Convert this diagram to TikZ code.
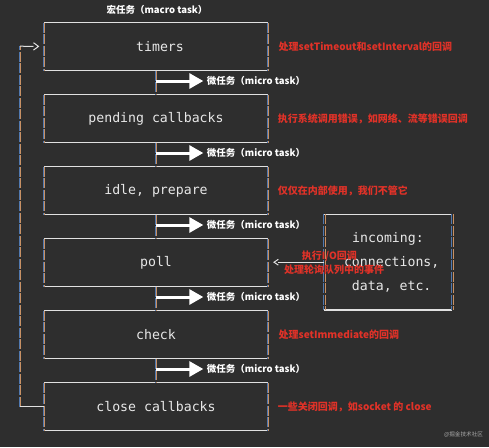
\documentclass[tikz,border=0pt]{standalone}
\usepackage{fontspec}
\newfontfamily\cjk{Noto Sans CJK SC}
\newfontfamily\mono{DejaVu Sans Mono}
\usetikzlibrary{arrows.meta,calc}
\definecolor{bg}{RGB}{46,46,46}
\definecolor{linew}{RGB}{225,225,225}
\definecolor{boxtext}{RGB}{232,232,232}
\definecolor{sideblue}{RGB}{80,120,175}
\definecolor{sideorange}{RGB}{200,145,100}
\definecolor{notered}{RGB}{225,50,40}
\definecolor{wm}{RGB}{170,170,170}
\newcommand\vsides[2]{%
  \draw[sideb] ([xshift=-0.45pt]#1) -- ([xshift=-0.45pt]#2);
  \draw[sideo] ([xshift=0.45pt]#1) -- ([xshift=0.45pt]#2);}
\begin{document}
\begin{tikzpicture}[x=1pt,y=-1pt,
  stage/.style={minimum width=224pt, minimum height=48pt, inner sep=0pt, outer sep=0pt,
    text=boxtext, font=\mono\fontsize{13.2}{24}\selectfont},
  hline/.style={draw=linew, line width=1.2pt},
  thinw/.style={draw=linew, line width=1pt},
  sideb/.style={draw=sideblue, line width=0.9pt, dash pattern=on 10pt off 1.5pt},
  sideo/.style={draw=sideorange, line width=0.5pt, dash pattern=on 10pt off 1.5pt},
  note/.style={anchor=west, text=notered, font=\cjk\bfseries\fontsize{10}{12}\selectfont, inner sep=0pt},
  micro/.style={anchor=west, text=white, font=\cjk\bfseries\fontsize{9.5}{11}\selectfont, inner sep=0pt},
  bigarrow/.style={draw=white, line width=3pt, -{Triangle[length=14pt,width=15pt]}},
]
\fill[bg] (0,0) rectangle (489,447);
\useasboundingbox (0,0) rectangle (489,447);

% stages
\node[stage] (timers) at (156,46.7) {\hspace{8pt}timers};
\node[stage] (pending) at (156,118.7) {pending callbacks};
\node[stage] (idle) at (156,190.7) {idle, prepare};
\node[stage] (poll) at (156,262.7) {poll\hspace{8pt}};
\node[stage] (check) at (156,334.7) {check};
\node[stage] (close) at (156,406.7) {close callbacks};

\foreach \n in {timers,pending,idle,poll,check,close}{
  \draw[hline] (\n.north west) -- (\n.north east);
  \draw[hline] (\n.south west) -- (\n.south east);
  \vsides{\n.north west}{\n.south west}
  \vsides{\n.north east}{\n.south east}
}

% connecting lines and micro task arrows
\foreach \a/\b in {timers/pending,pending/idle,idle/poll,poll/check,check/close}{
  \vsides{\a.south}{\b.north}
  \coordinate (m-\a) at ([yshift=-10.3pt]\a.south);
  \draw[bigarrow] (m-\a) -- ++(47.3,0);
  \node[micro] at ($(m-\a)+(50.7,0)$) {微任务（micro task）};
}

% top label
\node[micro, anchor=center] (macro) at (157,10.3) {宏任务（macro task）};

% notes
\node[note] at ([xshift=10.5pt]timers.east) {处理setTimeout和setInterval的回调};
\node[note] at ([xshift=9.7pt]pending.east) {执行系统调用错误，如网络、流等错误回调};
\node[note] at ([xshift=9.7pt]idle.east) {仅仅在内部使用，我们不管它};
\node[note] at ([xshift=10.5pt]check.east) {处理setImmediate的回调};
\node[note] at ([xshift=9.7pt]close.east) {一些关闭回调，如socket 的 close};

% incoming box
\node[minimum width=128pt, minimum height=95.7pt, inner sep=0pt, outer sep=0pt]
  (inc) at (388.3,262.2) {};
\node[text=boxtext, font=\mono\fontsize{13.2}{24}\selectfont, inner sep=0pt] (inc1) at (388,239) {incoming:};
\node[text=boxtext, font=\mono\fontsize{13.2}{24}\selectfont, inner sep=0pt] (inc2) at (391.7,262) {connections,};
\node[text=boxtext, font=\mono\fontsize{13.2}{24}\selectfont, inner sep=0pt] (inc3) at (391.7,286.5) {data, etc.};
\draw[hline] (inc.north west) -- (inc.north east);
\draw[hline] (inc.south west) -- (inc.south east);
\vsides{inc.north west}{inc.south west}
\vsides{inc.north east}{inc.south east}

% incoming -> poll
\coordinate (pin) at ([xshift=10.3pt]poll.east);
\draw[thinw] (inc.west) -- (inc.west -| pin);
\draw[thinw] ($(inc.west -| pin)+(0,-2.9)$) -- ($(inc.west -| pin)+(-4.3,0)$) -- ($(inc.west -| pin)+(0,2.9)$);
\node[note, anchor=center] (io1) at (329.3,256.5) {执行I/O回调};
\node[note, anchor=center] (io2) at (334.2,269.3) {处理轮询队列中的事件};

% loop back
\coordinate (lb) at (20,406.7);
\coordinate (lt) at (20,46.2);
\vsides{lb}{lt}
\draw[thinw] (close.west) -- (lb);
\coordinate (ltip) at ([xshift=-5.5pt,yshift=0.3pt]timers.west);
\draw[thinw] (lt) -- ($(ltip)+(-5,0)$);
\draw[thinw] ($(ltip)+(-5,-3.7)$) -- (ltip) -- ($(ltip)+(-5,3.7)$);

% watermark
\node[text=wm, font=\cjk\fontsize{5.6}{6}\selectfont, inner sep=0pt] (wmk) at (463.5,435) {@掘金技术社区};
\end{tikzpicture}
\end{document}
